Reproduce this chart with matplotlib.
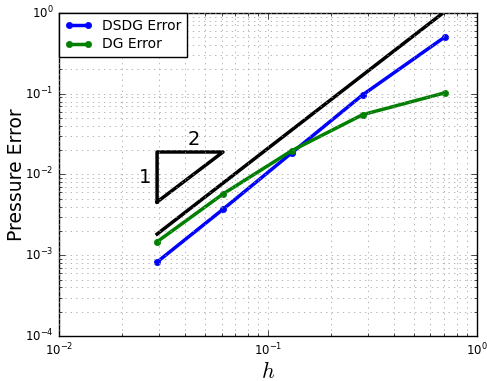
import matplotlib
matplotlib.use('Agg')
import matplotlib.pyplot as plt

h = [0.0295, 0.061, 0.13, 0.284, 0.707]
err_dsdg = [8.25e-4, 3.71e-3, 0.0185, 0.0966, 0.509]
err_dg = [1.47e-3, 5.74e-3, 0.0197, 0.055, 0.103]
ref_start = 1.83e-3

# triangle corners (slope indicator)
tri_h = [0.0295, 0.0295, 0.061, 0.0295]
tri_e = [0.00457, 0.019, 0.019, 0.00457]

plt.style.use('classic')
plt.rcParams['figure.facecolor'] = 'white'
plt.rcParams['savefig.facecolor'] = 'white'

ref = [ref_start * (x / h[0]) ** 2 for x in h]

fig = plt.figure(figsize=(4.87, 3.81), dpi=100)
ax = fig.add_axes([0.121, 0.118, 0.858, 0.848])

ax.loglog(h, err_dsdg, 'b-o', lw=2.5, ms=4.5, mec='b', label='DSDG Error')
ax.loglog(h, err_dg, 'g-o', lw=2.5, ms=4.5, mec='g', label='DG Error')
ax.loglog(h, ref, 'k-', lw=2.5)
ax.loglog(tri_h, tri_e, 'k-', lw=2.5)
ax.text(0.044, 0.0205, '2', fontsize=14, ha='center', va='bottom')
ax.text(0.0278, 0.0093, '1', fontsize=14, ha='right', va='center')

ax.set_xlim(1e-2, 1e0)
ax.set_ylim(1e-4, 1e0)
ax.grid(True, which='both', color='0.6', linestyle=':')
ax.tick_params(labelsize=8.5, pad=4)
ax.set_xlabel('$h$', fontsize=16, labelpad=2)
ax.set_ylabel('Pressure Error', fontsize=13.5, labelpad=-1)
ax.legend(loc='upper left', fontsize=10, handlelength=2.0, borderaxespad=0,
          borderpad=0.4, labelspacing=0.35, handletextpad=0.7)

plt.savefig('out.png', dpi=100)
